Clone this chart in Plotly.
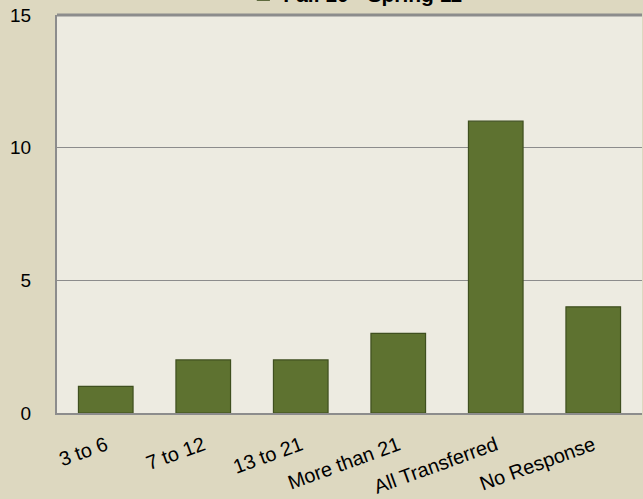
import plotly.graph_objects as go

categories = ["3 to 6", "7 to 12", "13 to 21", "More than 21", "All Transferred", "No Response"]
values = [1, 2, 2, 3, 11, 4]
series_name = "Fall 10 - Spring 11"
y_ticks = [0, 5, 10, 15]

fig = go.Figure()
fig.add_trace(go.Bar(
    x=categories, y=values, name=series_name,
    marker=dict(color="#5e7230", line=dict(color="#3f4f1f", width=1.2)),
    showlegend=True,
))

fig.update_layout(
    width=643, height=499,
    margin=dict(l=57, r=1, t=15, b=86, autoexpand=False),
    paper_bgcolor="#ddd8c0",
    plot_bgcolor="#edebe1",
    bargap=0.44,
    font=dict(family="Liberation Sans, Arial, sans-serif", color="#000000"),
    legend=dict(
        orientation="h", x=0.51, xanchor="center", y=1.0, yanchor="bottom",
        font=dict(size=21, family="Liberation Sans, Arial, sans-serif", color="#000", weight="bold"),
        bgcolor="rgba(0,0,0,0)",
    ),
    xaxis=dict(
        tickangle=-20, tickfont=dict(size=20), showline=True, linecolor="#8c8c8c",
        linewidth=2, ticks="", showgrid=False, ticklabelstandoff=11,
    ),
    yaxis=dict(
        range=[0, 15], tickvals=y_ticks, tickfont=dict(size=19), showgrid=True,
        gridcolor="#8c8c8c", gridwidth=1, zeroline=False, showline=True,
        linecolor="#8c8c8c", linewidth=2, ticks="", ticklabelstandoff=20,
    ),
)
fig.add_shape(type="line", xref="paper", yref="paper", x0=0, x1=1, y0=1, y1=1,
              line=dict(color="#8c8c8c", width=3))
fig.write_html(
    "out.html",
    config={"displayModeBar": False},
    post_script="document.body.style.margin='0';document.body.style.background='#ddd8c0';",
)
